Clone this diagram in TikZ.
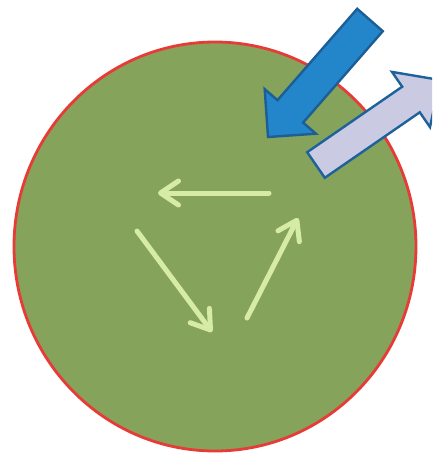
\documentclass[tikz,border=0pt]{standalone}
\usepackage{xcolor}
\usepackage{tikz}
\usetikzlibrary{arrows.meta}

\definecolor{celula}{HTML}{86A35B}
\definecolor{borda}{HTML}{E63B37}
\definecolor{setaclara}{HTML}{D6EBA6}
\definecolor{azul}{HTML}{2386CB}
\definecolor{azulesc}{HTML}{1C5E95}
\definecolor{lilas}{HTML}{CACAE3}

\begin{document}
\begin{tikzpicture}[x=1pt, y=-1pt,
  ciclo/.style={draw=setaclara, line width=5pt, line cap=round, -{Straight Barb[length=18pt, width=24pt, round]}},
  bloco/.style={line width=2.4pt, line join=miter}]
\useasboundingbox (0,0) rectangle (432,453);
\clip (0,0) rectangle (432,453);
% celula
\draw[fill=celula, draw=borda, line width=2.8pt] (215,246.5) ellipse [x radius=201pt, y radius=204.5pt];
% ciclo interno
\coordinate (c1) at (269,193);
\coordinate (c2) at (158,193);
\coordinate (c3) at (137,231);
\coordinate (c4) at (212,332);
\coordinate (c5) at (247,318);
\coordinate (c6) at (298,218);
\draw[ciclo] (c1) -- (c2);
\draw[ciclo] (c3) -- (c4);
\draw[ciclo] (c5) -- (c6);
% seta de entrada
\draw[bloco, fill=azul, draw=azulesc] (357.2,8.8) -- (382.8,31.2) -- (303.1,122.6) -- (315.9,133.7)
  -- (268,137) -- (264.7,89.1) -- (277.5,100.2) -- cycle;
% seta de saida
\draw[bloco, fill=lilas, draw=azulesc!90!azul] (307.2,152.2) -- (324.8,177.8) -- (419.8,112.3) -- (430,127.1)
  -- (440,80) -- (392,71.9) -- (402.2,86.7) -- cycle;
\end{tikzpicture}
\end{document}
